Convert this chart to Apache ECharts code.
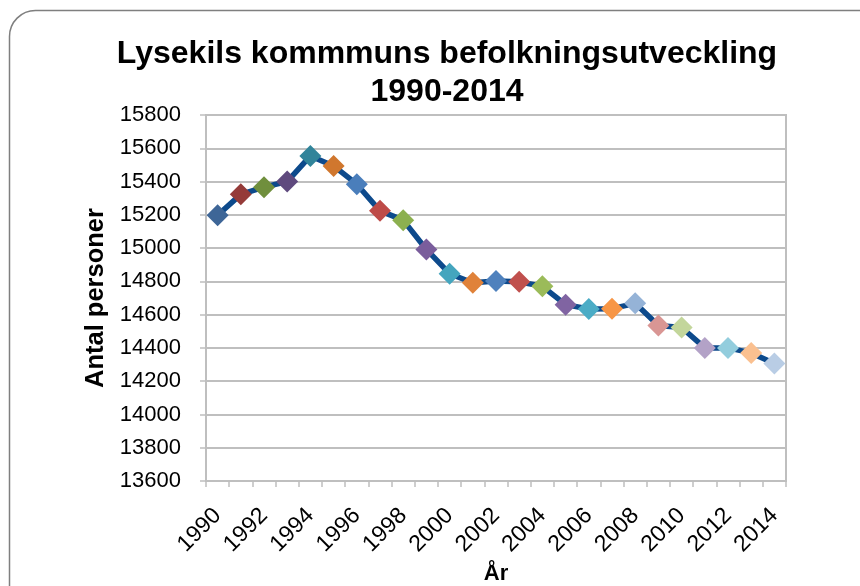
<!DOCTYPE html>
<html>
<head>
<meta charset="utf-8">
<script src="https://cdn.jsdelivr.net/npm/echarts@6/dist/echarts.min.js"></script>
<style>
  html, body { margin: 0; padding: 0; background: #fff; }
  #chart { width: 860px; height: 586px; }
</style>
</head>
<body>
<div id="chart"></div>
<script>
// år och befolkning
var years = ['1990', '1991', '1992', '1993', '1994', '1995', '1996', '1997', '1998', '1999',
  '2000', '2001', '2002', '2003', '2004', '2005', '2006', '2007', '2008', '2009',
  '2010', '2011', '2012', '2013', '2014']
var population = [15197, 15323, 15366, 15400, 15554, 15494, 15384, 15224, 15168, 14992,
  14846, 14792, 14802, 14798, 14770, 14660, 14634, 14636, 14668, 14535,
  14523, 14400, 14400, 14370, 14306]
var yTicks = { min: 13600, max: 15800, step: 200 }

// Excel "variera färger per punkt"
var pointColors = [
  '#3E6697', '#953B39', '#708F3D', '#5F4A7E', '#31849A', '#D0772E',
  '#4A7EBB', '#BE4B48', '#8CB04F', '#7A5D9C', '#44A5BE', '#E0823A',
  '#4F81BD', '#C0504D', '#9BBB59', '#8064A2', '#4BACC6', '#F79646',
  '#95B3D7', '#D99694', '#C3D69B', '#B3A2C7', '#93CDDD', '#FAC090',
  '#B9CDE5'
]

var font = 'Liberation Sans'
var chart = echarts.init(document.getElementById('chart'))

chart.setOption({
  backgroundColor: '#fff',
  animation: false,
  title: {
    text: 'Lysekils kommmuns befolkningsutveckling\n1990-2014',
    left: 442,
    textAlign: 'center',
    top: 30,
    textStyle: {
      fontFamily: font,
      fontSize: 32,
      fontWeight: 'bold',
      color: '#000',
      lineHeight: 38
    }
  },
  // ram runt diagrammet
  graphic: [{
    type: 'rect',
    shape: { x: 9.5, y: 10.5, width: 880, height: 620, r: 26 },
    style: { fill: 'none', stroke: '#7F7F7F', lineWidth: 1.5 },
    silent: true,
    z: -1
  }],
  grid: {
    left: 206,
    right: 74,
    top: 115,
    bottom: 105,
    outerBoundsMode: 'none',
    containLabel: false,
    show: true,
    borderColor: '#BFBFBF',
    borderWidth: 2
  },
  xAxis: {
    type: 'category',
    data: years,
    boundaryGap: true,
    name: 'År',
    nameLocation: 'middle',
    nameGap: 82,
    nameTextStyle: { fontFamily: font, fontSize: 22, fontWeight: 'bold', color: '#000' },
    axisLine: { lineStyle: { color: '#BFBFBF', width: 2 } },
    axisTick: { show: true, interval: 0, length: 6, lineStyle: { color: '#BFBFBF', width: 1.5 } },
    axisLabel: {
      interval: 1,
      rotate: 45,
      margin: 31,
      fontFamily: font,
      fontSize: 23,
      color: '#000'
    },
    splitLine: { show: false }
  },
  yAxis: {
    type: 'value',
    min: yTicks.min,
    max: yTicks.max,
    interval: yTicks.step,
    name: 'Antal personer',
    nameLocation: 'middle',
    nameGap: 96,
    nameTextStyle: { fontFamily: font, fontSize: 25.5, fontWeight: 'bold', color: '#000' },
    axisLine: { show: true, lineStyle: { color: '#BFBFBF', width: 2 } },
    axisTick: { show: true, length: 6, lineStyle: { color: '#BFBFBF', width: 1.5 } },
    axisLabel: {
      margin: 25,
      fontFamily: font,
      fontSize: 22,
      color: '#000',
      formatter: function (v) { return String(v) }
    },
    splitLine: { show: true, lineStyle: { color: '#BFBFBF', width: 2 } }
  },
  series: [{
    type: 'line',
    data: population.map(function (v, i) {
      return { value: v, itemStyle: { color: pointColors[i] } }
    }),
    symbol: 'diamond',
    symbolSize: 22,
    showSymbol: true,
    showAllSymbol: true,
    lineStyle: { color: '#0D4A8C', width: 5.5 },
    itemStyle: { borderWidth: 0 },
    z: 3
  }]
})
</script>
</body>
</html>
